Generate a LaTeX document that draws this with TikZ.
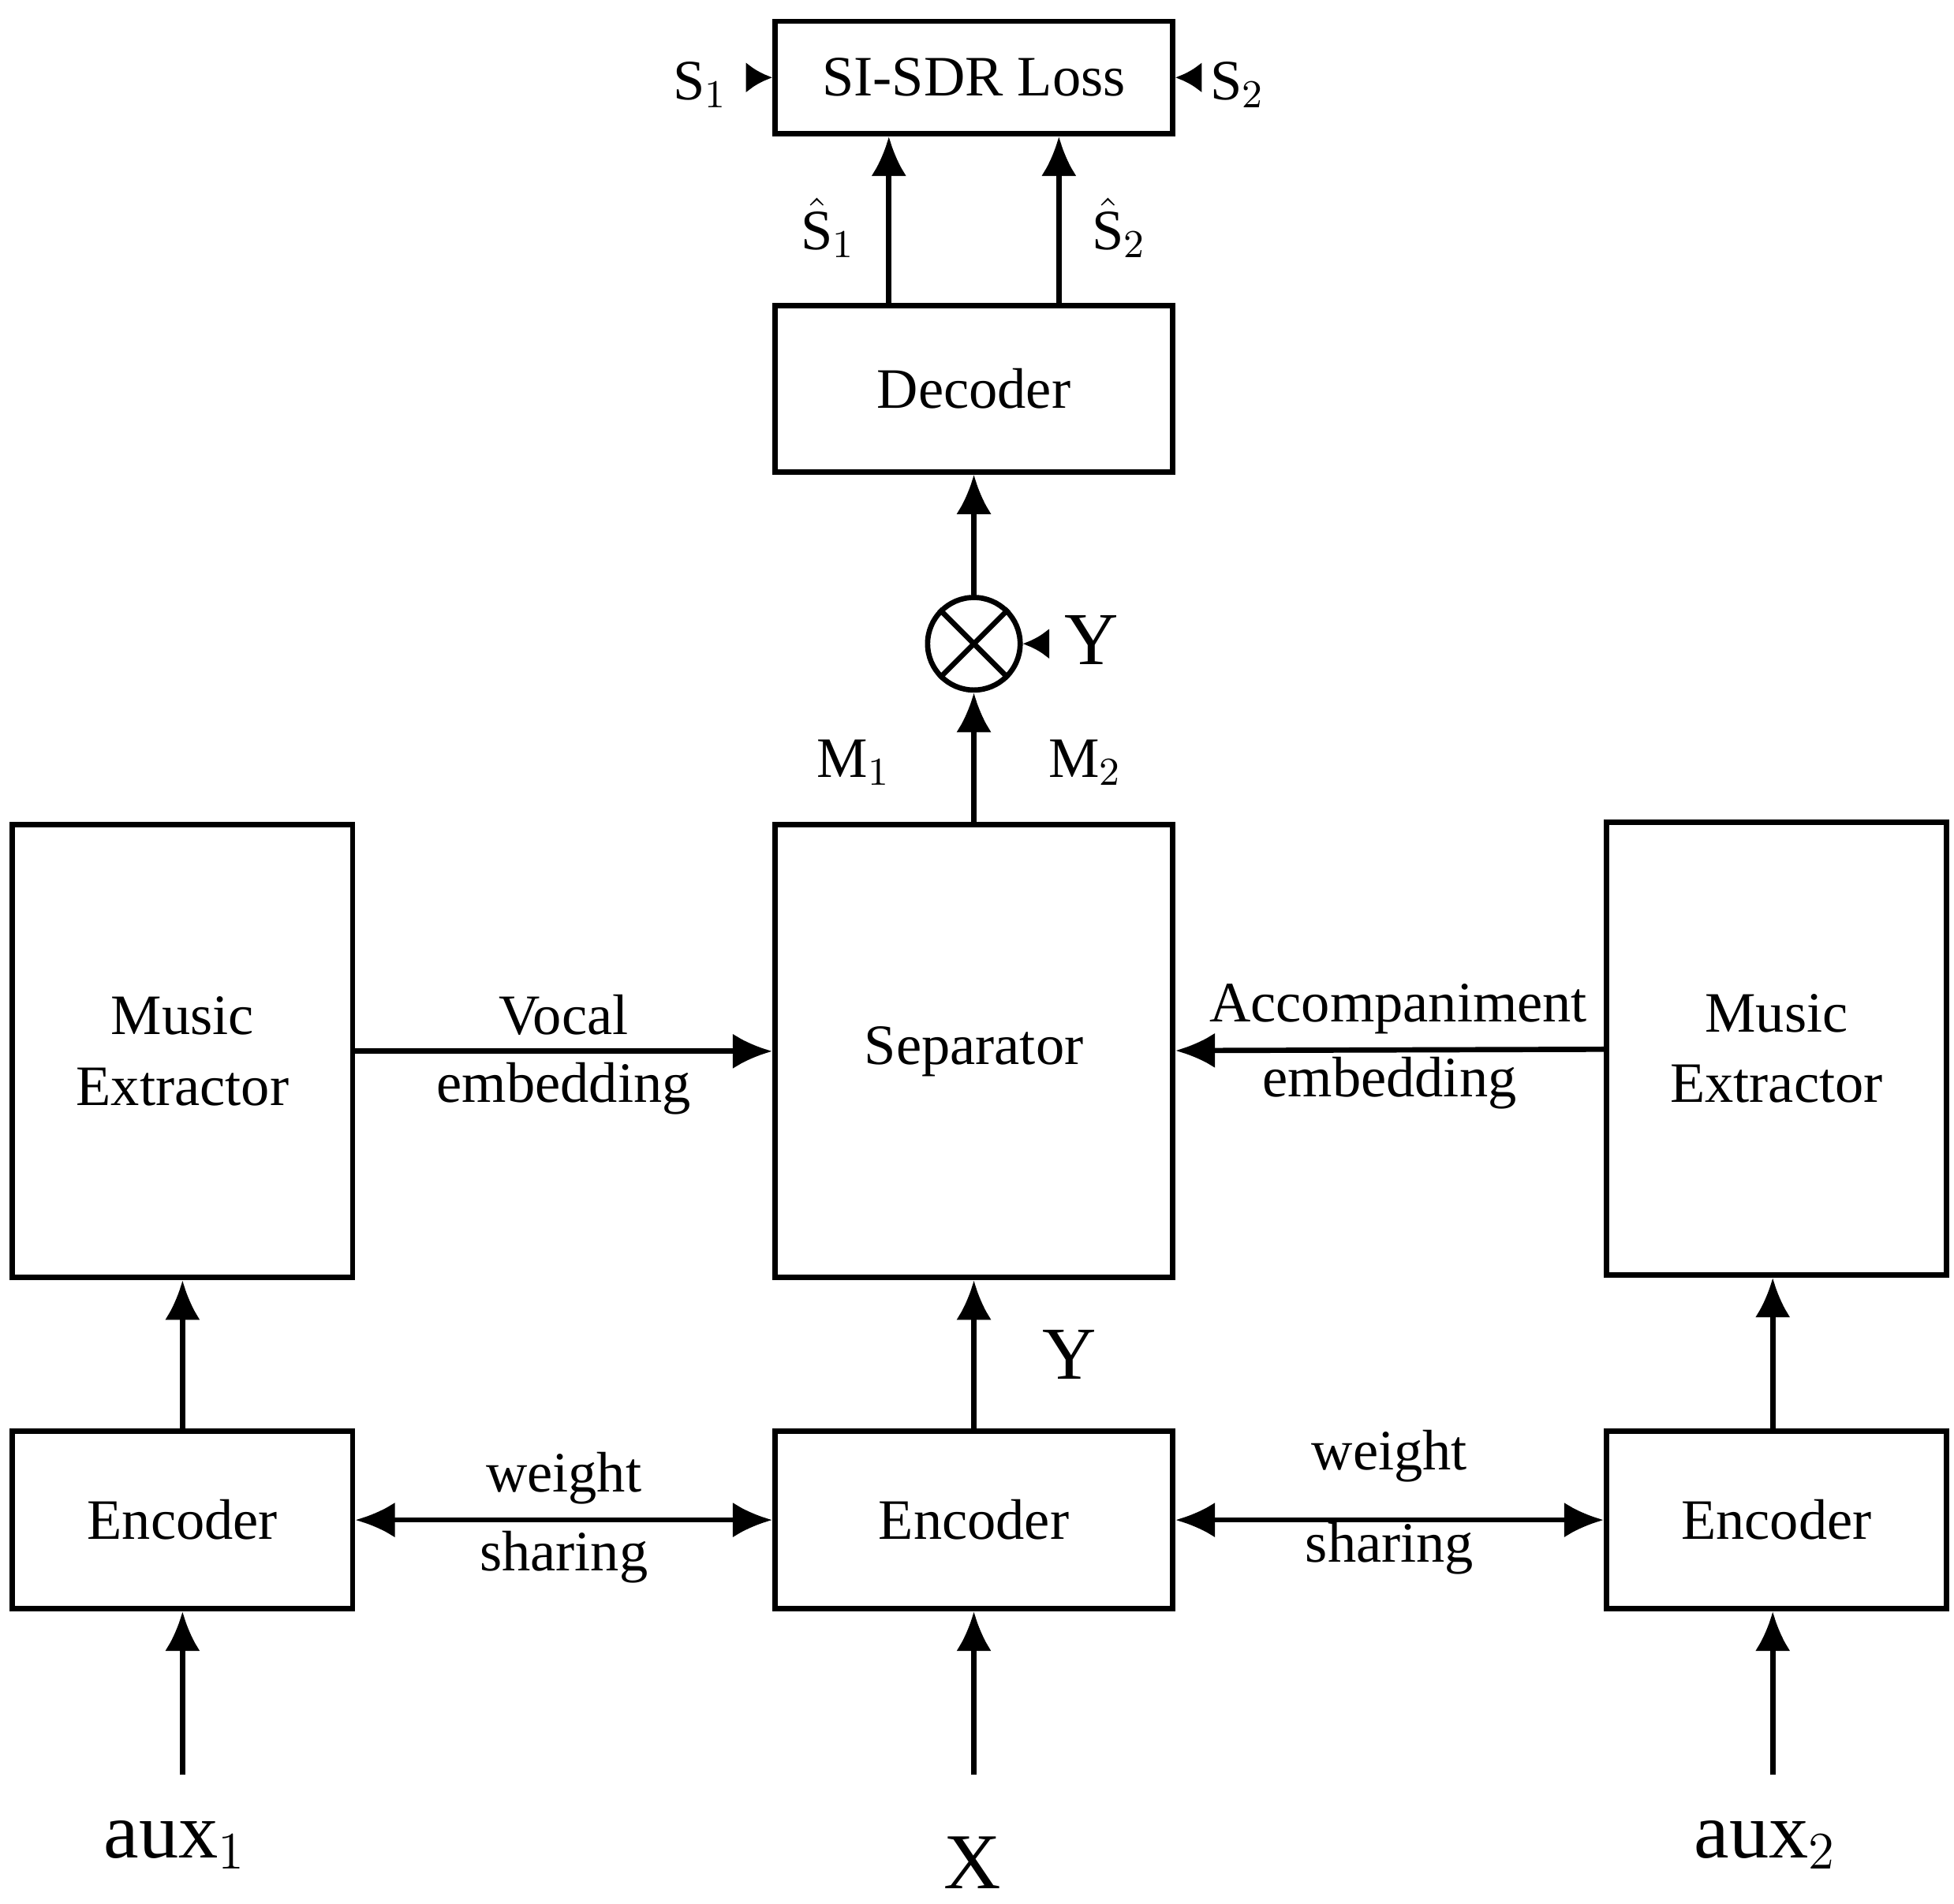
\documentclass[tikz,border=0pt]{standalone}
\usepackage{fontspec}
\setmainfont{Liberation Serif}
\usetikzlibrary{arrows.meta}
\tikzset{
  blk/.style={draw, line width=1.2pt, inner sep=0pt, align=center, font=\fontsize{13}{16}\selectfont},
  lbl/.style={font=\fontsize{13}{15}\selectfont, inner sep=1pt},
  arr/.style={line width=1.2pt, -{Latex[length=9pt,width=8pt]}},
  darr/.style={line width=1.2pt, {Latex[length=9pt,width=8pt]}-{Latex[length=9pt,width=8pt]}},
  tip/.style={line width=1.2pt, -{Latex[length=6pt,width=7pt]}}
}
\begin{document}
\begin{tikzpicture}[x=0.01cm,y=-0.01cm]
  \useasboundingbox (0,0) rectangle (1563,1523);

  % boxes
  \node[blk, minimum width=3.18cm, minimum height=0.90cm] (loss) at (779,62) {SI-SDR Loss};
  \node[blk, minimum width=3.18cm, minimum height=1.33cm] (dec) at (779,311) {Decoder};
  \node[draw, circle, line width=1.2pt, minimum size=0.74cm, inner sep=0pt] (mul) at (779,515) {};
  \draw[line width=1.2pt] (mul.north west) -- (mul.south east) (mul.north east) -- (mul.south west);
  \node[blk, minimum width=3.18cm, minimum height=3.62cm] (sep) at (779,841) {Separator};
  \node[blk, minimum width=2.72cm, minimum height=3.62cm] (mex1) at (146,841) {Music\\Extractor};
  \node[blk, minimum width=2.72cm, minimum height=3.62cm] (mex2) at (1421,839) {Music\\Extractor};
  \node[blk, minimum width=2.72cm, minimum height=1.42cm] (enc1) at (146,1216) {Encoder};
  \node[blk, minimum width=3.18cm, minimum height=1.42cm] (enc0) at (779,1216) {Encoder};
  \node[blk, minimum width=2.72cm, minimum height=1.42cm] (enc2) at (1421,1216) {Encoder};

  % inputs
  \node[lbl, font=\fontsize{18}{20}\selectfont] (aux1) at (140,1476) {aux$_1$};
  \node[lbl, font=\fontsize{18}{20}\selectfont] (x) at (778,1490) {X};
  \node[lbl, font=\fontsize{18}{20}\selectfont] (aux2) at (1412,1476) {aux$_2$};
  \coordinate (in1) at (146,1420);
  \coordinate (in0) at (779,1420);
  \coordinate (in2) at (1418,1420);
  \draw[arr] (in1) -- (enc1.south);
  \draw[arr] (in0) -- (enc0.south);
  \draw[arr] (in2) -- (in2 |- enc2.south);

  % encoders up
  \draw[arr] (enc1) -- (mex1);
  \draw[arr] (enc0) -- node[lbl, right=14pt, font=\fontsize{17}{20}\selectfont] {Y} (sep);
  \draw[arr] (in2 |- enc2.north) -- (in2 |- mex2.south);
  \draw[darr] (enc1) -- node[lbl, above=2pt] {weight} node[lbl, below=1pt] {sharing} (enc0);
  \draw[darr] (enc0) -- node[lbl, above=7pt] {weight} node[lbl, below=-1pt] {sharing} (enc2);

  % embeddings
  \draw[arr] (mex1) -- node[lbl, above=2pt] {Vocal} node[lbl, below=1pt] {embedding} (sep);
  \draw[arr] (mex2) -- node[lbl, above=2pt, xshift=2pt] {Accompaniment} node[lbl, below=0pt] {embedding} (sep);

  % separator to decoder
  \draw[arr] (sep) -- (mul);
  \node[lbl] (m1) at (683,610) {M$_1$};
  \node[lbl] (m2) at (868,610) {M$_2$};
  \node[lbl, font=\fontsize{17}{20}\selectfont] (y) at (873,512) {Y};
  \coordinate (yin) at (838,515);
  \draw[tip] (yin) -- (mul);
  \draw[arr] (mul) -- (dec);

  % decoder to loss
  \coordinate (o1) at (711,0);
  \coordinate (o2) at (847,0);
  \draw[arr] (o1 |- dec.north) -- node[lbl, left=6pt, pos=0.45] {$\hat{\mathrm{S}}_1$} (o1 |- loss.south);
  \draw[arr] (o2 |- dec.north) -- node[lbl, right=6pt, pos=0.45] {$\hat{\mathrm{S}}_2$} (o2 |- loss.south);
  \node[lbl] (s1) at (560,68) {S$_1$};
  \node[lbl] (s2) at (990,68) {S$_2$};
  \coordinate (s1in) at (600,62);
  \coordinate (s2in) at (958,62);
  \draw[tip] (s1in) -- (loss);
  \draw[tip] (s2in) -- (loss);
\end{tikzpicture}
\end{document}
